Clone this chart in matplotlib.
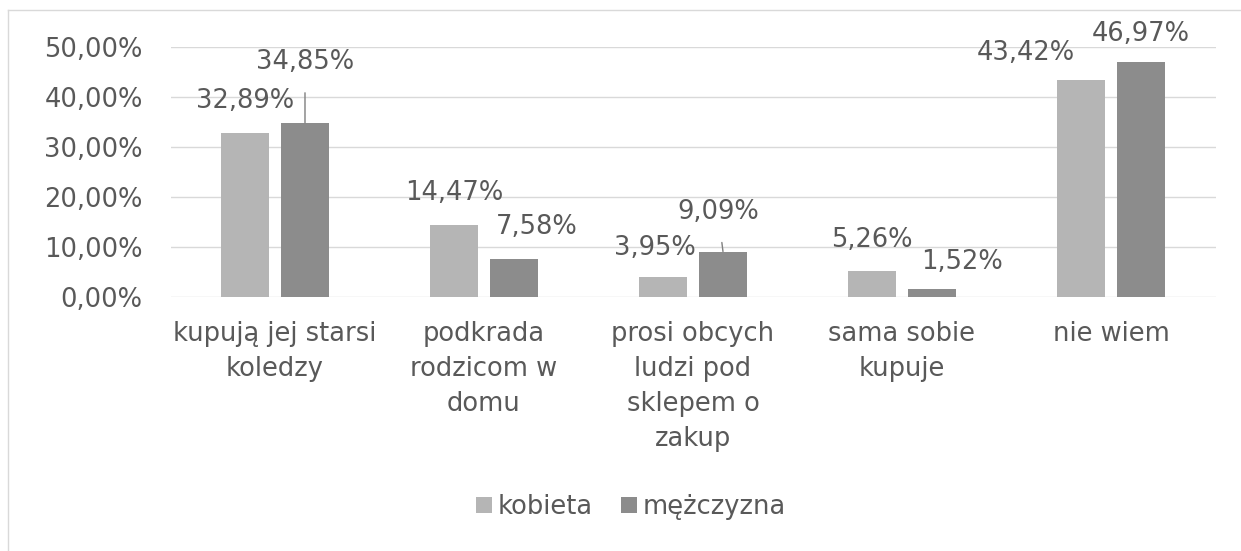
import matplotlib.pyplot as plt
import numpy as np
from matplotlib.lines import Line2D

kategorie = ["kupują jej starsi\nkoledzy", "podkrada\nrodzicom w\ndomu",
             "prosi obcych\nludzi pod\nsklepem o\nzakup", "sama sobie\nkupuje", "nie wiem"]
kobieta = [32.89, 14.47, 3.95, 5.26, 43.42]
mezczyzna = [34.85, 7.58, 9.09, 1.52, 46.97]
yticks = [0, 10, 20, 30, 40, 50]

# przesuniecia etykiet (piksele) jak w oryginale
off_k = [(0, 32), (0, 32), (-8, 29), (0, 31), (-55, 27)]
off_m = [(0, 61), (23, 32), (-5, 40), (30, 27), (0, 28)]
linia_m = [True, False, True, False, False]

tekst = "#595959"
jasny = "#b5b5b5"
ciemny = "#8c8c8c"
fs = 18.5

plt.rcParams['font.family'] = ['DejaVu Sans']

fig = plt.figure(figsize=(12.41, 5.51), dpi=100)
ax = fig.add_axes([170.5 / 1241, 1 - 297 / 551, 1045 / 1241, 250 / 551])

x = np.arange(len(kategorie))
w = 0.225
d = 0.1435
b1 = ax.bar(x - d, kobieta, w, color=jasny, label="kobieta", zorder=3)
b2 = ax.bar(x + d, mezczyzna, w, color=ciemny, label="mężczyzna", zorder=3)

def fmt(v):
    return f"{v:.2f}%".replace(".", ",")

for i in range(len(x)):
    ax.annotate(fmt(kobieta[i]), (x[i] - d, kobieta[i]), xytext=off_k[i],
                textcoords="offset pixels", ha="center", va="center",
                fontsize=fs, color=tekst, annotation_clip=False)
    ap = dict(arrowstyle="-", color="#7f7f7f", lw=1, shrinkA=11, shrinkB=0) if linia_m[i] else None
    ax.annotate(fmt(mezczyzna[i]), (x[i] + d, mezczyzna[i]), xytext=off_m[i],
                textcoords="offset pixels", ha="center", va="center",
                fontsize=fs, color=tekst, annotation_clip=False, arrowprops=ap)

ax.set_xlim(-0.5, len(x) - 0.5)
ax.set_ylim(0, 50)
ax.set_yticks(yticks)
ax.set_yticklabels([fmt(v) for v in yticks], fontsize=fs, color=tekst)
ax.set_xticks(x)
ax.set_xticklabels(kategorie, fontsize=fs, color=tekst, linespacing=1.45, va="top")
ax.tick_params(length=0)
ax.tick_params(axis="y", pad=20)
ax.tick_params(axis="x", pad=17)
ax.grid(axis="y", color="#d9d9d9", lw=1, zorder=0)
for s in ax.spines.values():
    s.set_visible(False)

fig.legend(handles=[b1, b2], labels=["kobieta", "mężczyzna"], loc="center",
           bbox_to_anchor=(631 / 1241, 1 - 507 / 551), ncol=2, frameon=False,
           fontsize=fs, labelcolor=tekst, handlelength=0.62, handleheight=0.62,
           handletextpad=0.23, columnspacing=1.1)

fig.add_artist(Line2D([8 / 1241, 1], [1 - 10 / 551, 1 - 10 / 551], color="#d9d9d9", lw=1))
fig.add_artist(Line2D([8 / 1241, 8 / 1241], [0, 1 - 10 / 551], color="#d9d9d9", lw=1))

fig.savefig("out.png", dpi=100, facecolor="white")
